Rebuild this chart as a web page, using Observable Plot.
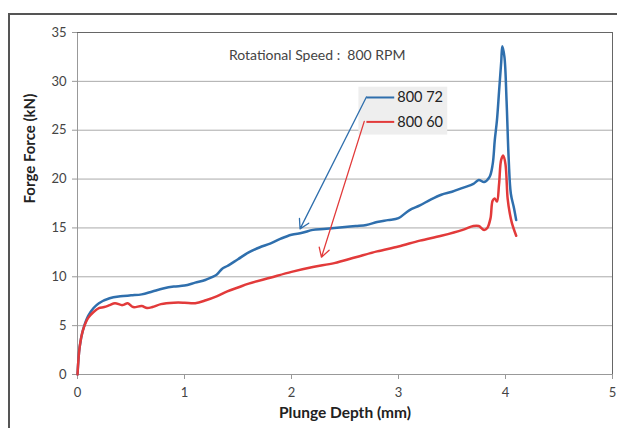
<!DOCTYPE html>
<html><head><meta charset="utf-8">
<script src="https://cdn.jsdelivr.net/npm/d3@7"></script>
<script src="https://cdn.jsdelivr.net/npm/@observablehq/plot@0.6"></script>
<style>
body{margin:0;background:#fff;overflow:hidden;}
#wrap{position:relative;width:617px;height:428px;overflow:hidden;}
#frame{position:absolute;left:8px;top:13px;width:700px;height:500px;border:2px solid #555;box-sizing:border-box;}
#chart{position:absolute;left:0;top:0;}
</style></head>
<body><div id="wrap"><div id="frame"></div><div id="chart"></div></div>
<script>
const depth72 = [0,0.02,0.05,0.1,0.15,0.2,0.3,0.4,0.5,0.6,0.7,0.8,0.9,1.0,1.1,1.2,1.3,1.35,1.4,1.5,1.6,1.7,1.8,1.9,2.0,2.1,2.2,2.3,2.4,2.5,2.6,2.7,2.8,2.9,3.0,3.1,3.2,3.3,3.4,3.5,3.6,3.7,3.75,3.8,3.85,3.88,3.9,3.92,3.94,3.96,3.97,3.99,4.01,4.03,4.05,4.08,4.1];
const force72 = [0,2.8,4.5,6.0,6.8,7.3,7.8,8.0,8.1,8.2,8.5,8.8,9.0,9.1,9.4,9.7,10.2,10.8,11.1,11.8,12.5,13.0,13.4,13.9,14.3,14.5,14.8,14.9,15.0,15.1,15.2,15.3,15.6,15.8,16.0,16.8,17.3,17.9,18.4,18.7,19.1,19.5,19.9,19.7,20.2,21.5,24.0,26.0,29.0,32.0,33.6,32.5,28.0,22.0,18.5,17.0,15.8];
const depth60 = [0,0.02,0.05,0.1,0.15,0.2,0.25,0.3,0.35,0.42,0.47,0.52,0.6,0.65,0.7,0.78,0.9,1.0,1.1,1.2,1.3,1.4,1.5,1.6,1.8,2.0,2.2,2.4,2.6,2.8,3.0,3.2,3.4,3.6,3.7,3.75,3.8,3.83,3.86,3.88,3.9,3.92,3.94,3.96,3.98,4.0,4.02,4.04,4.06,4.1];
const force60 = [0,2.8,4.5,5.8,6.4,6.8,6.9,7.1,7.3,7.1,7.3,6.9,7.0,6.8,6.9,7.2,7.35,7.35,7.3,7.6,8.0,8.5,8.9,9.3,9.9,10.5,11.0,11.4,12.0,12.6,13.1,13.7,14.2,14.8,15.2,15.2,14.8,15.0,16.0,17.8,18.0,17.7,19.5,22.0,22.4,21.5,18.0,16.5,15.5,14.2];
const seriesNames = ["800 72","800 60"];
const seriesColors = ["#2f6fad","#e23a3a"];
const xTicks = [0,1,2,3,4,5];
const yTicks = [0,5,10,15,20,25,30,35];
const titleText = "Rotational Speed :  800 RPM";
// annotation geometry in data units
const arrowFrom = [[2.70,28.4],[2.68,25.9]];
const arrowTo = [[2.08,14.9],[2.28,12.0]];
const legendLineX = [2.70,2.96];
const legendY = [28.35,25.85];
const legendBox = {x1:2.63,x2:3.46,y1:24.5,y2:29.4};

const data72 = depth72.map((d,i)=>({x:d,y:force72[i]}));
const data60 = depth60.map((d,i)=>({x:d,y:force60[i]}));
const arrows = arrowFrom.map((f,i)=>({x1:f[0],y1:f[1],x2:arrowTo[i][0],y2:arrowTo[i][1],c:seriesColors[i]}));
const legLines = legendY.map((y,i)=>({x1:legendLineX[0],x2:legendLineX[1],y,c:seriesColors[i],name:seriesNames[i]}));
const font = "Lato, 'Open Sans', sans-serif";

const chart = Plot.plot({
  width:617, height:428,
  marginLeft:77, marginRight:5, marginTop:32, marginBottom:54,
  style:{fontFamily:font, background:"transparent"},
  x:{domain:[0,5], ticks:xTicks, label:null},
  y:{domain:[0,35], ticks:yTicks, label:null},
  marks:[
    Plot.gridY(yTicks,{stroke:"#aaa", strokeOpacity:1, strokeWidth:1}),
    Plot.ruleY([0],{stroke:"#999"}),
    Plot.ruleX([0],{stroke:"#999"}),
    Plot.ruleY([35],{stroke:"#666"}),
    Plot.ruleX([5],{stroke:"#666"}),
    Plot.axisX(xTicks,{tickSize:5, stroke:"#999", fill:"#444", fontSize:13, tickPadding:8}),
    Plot.axisY(yTicks,{tickSize:5, stroke:"#999", fill:"#444", fontSize:13, tickPadding:6}),
    Plot.text(["Plunge Depth (mm)"],{frameAnchor:"bottom", dy:43, fontSize:15.5, fontWeight:"bold", fill:"#222"}),
    Plot.text(["Forge Force (kN)"],{frameAnchor:"left", dx:-47, rotate:-90, fontSize:15, fontWeight:"bold", fill:"#222"}),
    Plot.text([titleText],{x:[2.24], y:[32.6], fontSize:14, fill:"#444"}),
    Plot.rect([legendBox],{x1:"x1",x2:"x2",y1:"y1",y2:"y2",fill:"#eeeeee"}),
    Plot.line(data72,{x:"x",y:"y",stroke:seriesColors[0],strokeWidth:2.5,curve:"catmull-rom"}),
    Plot.line(data60,{x:"x",y:"y",stroke:seriesColors[1],strokeWidth:2.5,curve:"catmull-rom"}),
    Plot.link(legLines,{x1:"x1",x2:"x2",y1:"y",y2:"y",stroke:"c",strokeWidth:2}),
    Plot.text(legLines,{x:"x2",y:"y",text:"name",textAnchor:"start",dx:3,fontSize:14.5,fill:"#222"}),
    Plot.arrow(arrows,{x1:"x1",y1:"y1",x2:"x2",y2:"y2",stroke:"c",strokeWidth:1.3,headLength:12,bend:0})
  ]
});
document.getElementById("chart").appendChild(chart);
</script></body></html>
